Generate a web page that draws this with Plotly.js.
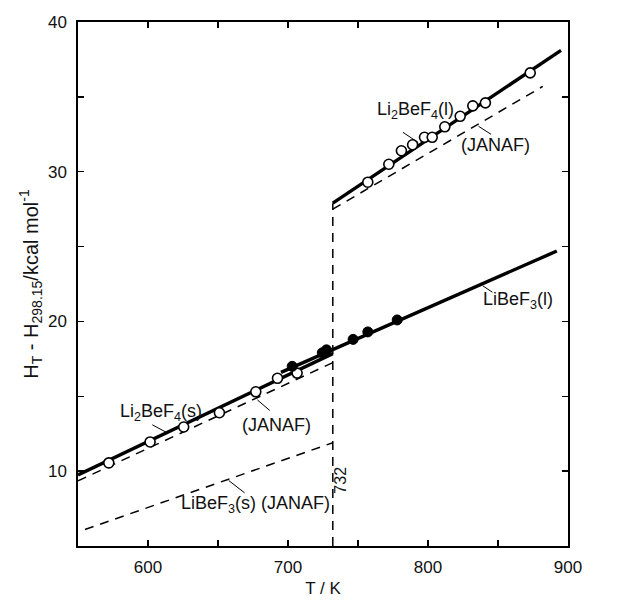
<!DOCTYPE html>
<html>
<head>
<meta charset="utf-8">
<script src="https://cdn.plot.ly/plotly-3.0.1.min.js"></script>
<style>html,body{margin:0;padding:0;background:#fff;}#chart{width:620px;height:606px;}</style>
</head>
<body>
<div id="chart"></div>
<script>
// Li2BeF4 solid: measured (open circles)
const solidT = [572, 601.5, 625.5, 651, 677, 692.5, 706.5];
const solidH = [10.55, 11.95, 12.95, 13.9, 15.3, 16.2, 16.55];
// Li2BeF4 liquid: measured (open circles)
const liqT = [757, 772, 781, 789, 797.5, 803, 812, 823, 832, 841, 873];
const liqH = [29.3, 30.5, 31.4, 31.8, 32.3, 32.3, 33.0, 33.7, 34.4, 34.6, 36.6];
// LiBeF3 liquid: measured (filled circles)
const libT = [703, 724.5, 727.5, 746.5, 757, 778];
const libH = [17.0, 17.9, 18.1, 18.8, 19.3, 20.1];
// fitted lines (solid)
const fitSolidT = [550, 732];   const fitSolidH = [9.75, 17.85];
const fitLiqT = [732, 895];     const fitLiqH = [27.9, 38.1];
const fitLibT = [695, 892];     const fitLibH = [16.6, 24.7];
// JANAF lines (dashed)
const janSolidT = [550, 732];   const janSolidH = [9.35, 17.25];
const janLiqT = [732, 882];     const janLiqH = [27.5, 35.7];
const janLibT = [555, 732];     const janLibH = [6.1, 11.9];
// melting point line
const meltT = [732, 732];       const meltH = [5, 27.9];

const xTicks = [550, 600, 650, 700, 750, 800, 850, 900];
const xTickText = ['', '600', '', '700', '', '800', '', '900'];
const yTicks = [5, 10, 15, 20, 25, 30, 35, 40];
const yTickText = ['', '10', '', '20', '', '30', '', '40'];

const solidLine = {width: 3.4, color: '#000'};
const dashLine = {width: 1.5, color: '#000', dash: '9px,7px'};

const traces = [
  {x: fitSolidT, y: fitSolidH, mode: 'lines', line: solidLine},
  {x: fitLiqT, y: fitLiqH, mode: 'lines', line: solidLine},
  {x: fitLibT, y: fitLibH, mode: 'lines', line: solidLine},
  {x: janSolidT, y: janSolidH, mode: 'lines', line: dashLine},
  {x: janLiqT, y: janLiqH, mode: 'lines', line: dashLine},
  {x: janLibT, y: janLibH, mode: 'lines', line: dashLine},
  {x: meltT, y: meltH, mode: 'lines', line: dashLine},
  {x: solidT, y: solidH, mode: 'markers', marker: {symbol: 'circle', size: 10, color: '#fff', line: {color: '#000', width: 1.6}}},
  {x: liqT, y: liqH, mode: 'markers', marker: {symbol: 'circle', size: 10, color: '#fff', line: {color: '#000', width: 1.6}}},
  {x: libT, y: libH, mode: 'markers', marker: {symbol: 'circle', size: 10, color: '#000', line: {color: '#000', width: 1}}}
];

const F = {family: 'Liberation Sans, Arial, sans-serif', size: 18, color: '#111'};
const TF = {family: 'Liberation Sans, Arial, sans-serif', size: 17, color: '#111'};
function lbl(x, y, text, extra) {
  return Object.assign({x: x, y: y, xref: 'x', yref: 'y', text: text, showarrow: false, font: F}, extra || {});
}
function ptr(x0, y0, x1, y1) {
  return {x: x1, y: y1, ax: x0, ay: y0, xref: 'x', yref: 'y', axref: 'x', ayref: 'y',
          text: '', showarrow: true, arrowhead: 0, arrowwidth: 1, arrowcolor: '#000', standoff: 0, startstandoff: 0};
}

const annotations = [
  lbl(791, 34.1, 'Li<sub>2</sub>BeF<sub>4</sub>(l)'),
  ptr(781, 32.7, 793, 31.95),
  lbl(848, 31.8, '(JANAF)'),
  ptr(835, 33.1, 845, 32.5),
  lbl(864, 21.4, 'LiBeF<sub>3</sub>(l)'),
  ptr(838, 22.45, 846, 21.95),
  lbl(609, 13.9, 'Li<sub>2</sub>BeF<sub>4</sub>(s)'),
  ptr(602, 13.15, 614, 12.55),
  lbl(692, 13.1, '(JANAF)'),
  ptr(677, 14.85, 687, 14.05),
  lbl(677, 7.8, 'LiBeF<sub>3</sub>(s) (JANAF)'),
  ptr(656.6, 9.45, 669, 8.55),
  lbl(737.5, 9.4, '732', {textangle: -90, font: Object.assign({}, F, {size: 16})})
];

const axisCommon = {
  showgrid: false, zeroline: false, showline: true, linecolor: '#000', linewidth: 1.6,
  mirror: 'allticks', ticks: 'inside', ticklen: 6, tickwidth: 1.4, tickcolor: '#000',
  tickfont: TF, tickmode: 'array'
};

const layout = {
  width: 620, height: 606,
  margin: {l: 78, r: 52, t: 22, b: 60},
  paper_bgcolor: '#fff', plot_bgcolor: '#fff',
  showlegend: false,
  xaxis: Object.assign({}, axisCommon, {
    range: [550, 900], tickvals: xTicks, ticktext: xTickText, ticklabelstandoff: 5,
    title: {text: 'T / K', font: TF, standoff: 6}
  }),
  yaxis: Object.assign({}, axisCommon, {
    range: [5, 40], tickvals: yTicks, ticktext: yTickText, ticklabelstandoff: 6,
    title: {text: 'H<sub>T</sub> - H<sub>298.15</sub>/kcal mol<sup>-1</sup>', font: Object.assign({}, F, {size: 20}), standoff: 4}
  }),
  annotations: annotations
};

Plotly.newPlot('chart', traces, layout, {displayModeBar: false, staticPlot: true});
</script>
</body>
</html>
